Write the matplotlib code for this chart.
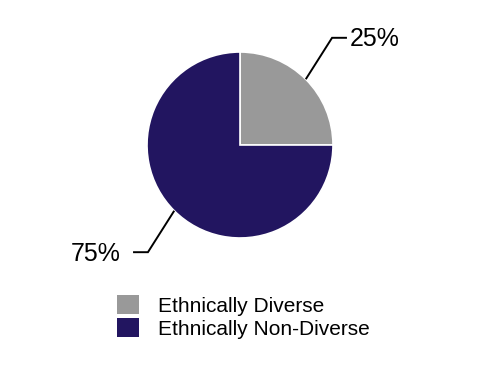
import numpy as np
import matplotlib
matplotlib.use("Agg")
import matplotlib.pyplot as plt
from matplotlib.patches import Patch

plt.rcParams['font.family'] = ['Liberation Sans', 'DejaVu Sans']

labels = ['Ethnically Diverse', 'Ethnically Non-Diverse']
values = [25, 75]
pct_labels = ['25%', '75%']
colors = ['#999999', '#221560']

fig = plt.figure(figsize=(4.78, 3.80), dpi=100)
ax = fig.add_axes([0, 0, 1, 1])

wedges, _ = ax.pie(values, colors=colors, startangle=90, counterclock=False,
                   radius=1.0, wedgeprops=dict(edgecolor='white', linewidth=1.2))

# leader lines + percent labels
for w, txt in zip(wedges, pct_labels):
    mid = np.deg2rad((w.theta1 + w.theta2) / 2)
    c, s = np.cos(mid), np.sin(mid)
    x0, y0 = c, s
    x1, y1 = 1.4 * c, 1.63 * s
    sgn = np.sign(c)
    x2 = x1 + sgn * 0.16
    ax.plot([x0, x1, x2], [y0, y1, y1], color='black', lw=1.4,
            solid_capstyle='butt', solid_joinstyle='miter')
    if sgn > 0:
        ax.text(x2 + 0.03, y1 - 0.01, txt, ha='left', va='center', fontsize=18)
    else:
        ax.text(x2 - 0.13, y1 - 0.02, txt, ha='right', va='center', fontsize=18)

ax.set_xlim(-240 / 93, (478 - 240) / 93)
ax.set_ylim(-(380 - 145) / 93, 145 / 93)
ax.axis('off')

handles = [Patch(facecolor=col, edgecolor='none') for col in colors]
fig.legend(handles, labels, loc='upper left', bbox_to_anchor=(0.245, 0.224),
           frameon=False, fontsize=15, handlelength=1.06, handleheight=1.05,
           handletextpad=0.9, labelspacing=0.12, borderpad=0, borderaxespad=0)

fig.savefig('out.png', dpi=100)
